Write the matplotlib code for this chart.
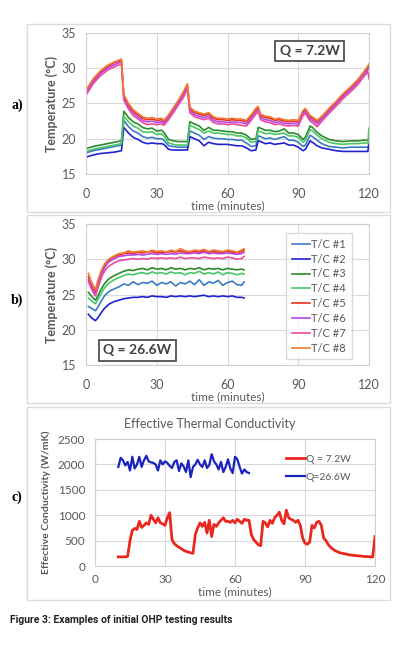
import numpy as np
import matplotlib
matplotlib.use('Agg')
import matplotlib.pyplot as plt
from matplotlib.patches import Rectangle

plt.rcParams['font.family'] = ['Lato', 'DejaVu Sans']

# ---- panel a: Q = 7.2W, temperatures (deg C) ----
ta = [0, 3, 6, 9, 12, 15, 16, 18, 20, 22, 24, 26, 28, 30, 32, 33, 35, 37, 39, 41, 43,
      44, 46, 48, 50, 52, 54, 56, 58, 60, 62, 64, 66, 68, 70, 72, 73, 74, 76, 78, 80,
      82, 84, 86, 88, 90, 92, 93, 95, 96, 98, 100, 103, 106, 109, 112, 115, 118, 119.5, 120]
a_tc1 = [18.0, 18.3, 18.5, 18.7, 18.9, 19.1,
         22.6, 21.7, 21.1, 20.8, 20.3, 20.1, 20.2, 20.0, 20.0, 19.8,
         19.0, 18.9, 18.8, 18.8, 18.8,
         21.1, 20.8, 20.5, 19.9, 20.3, 20.1, 20.0, 20.0, 19.9, 19.9, 19.8, 19.8,
         19.4, 18.9, 19.0, 20.4,
         20.3, 20.0, 20.1, 19.9, 20.1, 20.3, 19.8, 19.8, 19.5,
         18.9, 19.1, 20.5, 20.3, 19.8,
         19.3, 18.9, 18.8, 18.7, 18.8, 18.8, 18.8, 18.8, 19.3]
a_tc2 = [17.4, 17.7, 17.9, 18.0, 18.1, 18.3,
         21.6, 20.8, 20.2, 19.9, 19.5, 19.3, 19.4, 19.3, 19.3, 19.2,
         18.5, 18.4, 18.4, 18.4, 18.4,
         20.3, 20.0, 19.7, 19.0, 19.5, 19.3, 19.2, 19.2, 19.2, 19.1, 19.0, 19.0,
         18.7, 18.3, 18.4, 19.7,
         19.6, 19.3, 19.4, 19.2, 19.3, 19.4, 19.1, 19.1, 18.8,
         18.3, 18.5, 19.7, 19.5, 19.0,
         18.7, 18.5, 18.3, 18.2, 18.2, 18.2, 18.2, 18.2, 19.2]
a_tc3 = [18.6, 18.9, 19.1, 19.3, 19.5, 19.7,
         23.9, 23.0, 22.4, 22.1, 21.6, 21.4, 21.5, 21.1, 21.2, 20.9,
         19.9, 19.7, 19.6, 19.6, 19.6,
         22.4, 22.1, 21.8, 21.2, 21.6, 21.2, 21.2, 21.1, 21.0, 21.0, 20.8, 20.8,
         20.5, 19.9, 20.0, 21.6,
         21.5, 21.2, 21.2, 21.0, 21.1, 21.4, 20.8, 20.8, 20.6,
         19.9, 20.2, 21.8, 21.6, 20.9,
         20.4, 19.9, 19.7, 19.6, 19.7, 19.7, 19.8, 19.8, 19.9]
a_tc4 = [18.2, 18.5, 18.7, 18.9, 19.1, 19.3,
         23.2, 22.4, 21.8, 21.5, 21.0, 20.9, 21.0, 20.6, 20.7, 20.4,
         19.4, 19.2, 19.1, 19.1, 19.1,
         21.9, 21.6, 21.3, 20.8, 21.1, 20.8, 20.8, 20.7, 20.6, 20.6, 20.4, 20.4,
         20.1, 19.5, 19.6, 21.1,
         21.0, 20.7, 20.8, 20.6, 20.7, 20.8, 20.4, 20.4, 20.2,
         19.5, 19.8, 21.3, 21.1, 20.5,
         20.0, 19.5, 19.3, 19.2, 19.3, 19.3, 19.4, 19.4, 21.5]
a_tc5 = [26.8, 28.3, 29.4, 30.2, 30.8, 31.1,
         26.1, 24.8, 23.9, 23.4, 22.9, 22.7, 22.8, 22.6, 22.7, 22.4,
         23.2, 24.2, 25.2, 26.3, 27.6,
         24.3, 23.7, 23.5, 23.3, 23.5, 22.9, 22.7, 22.7, 22.6, 22.7, 22.6, 22.6,
         22.4, 23.2, 24.1, 24.4,
         23.3, 23.0, 22.9, 22.6, 22.7, 22.5, 22.4, 22.5, 22.4,
         23.8, 24.1, 23.1, 22.9, 22.4,
         23.0, 24.1, 25.1, 26.2, 27.1, 28.1, 29.4, 30.1, 30.4]
a_tc6 = [26.5, 28.1, 29.2, 30.0, 30.5, 30.9,
         25.8, 24.5, 23.6, 23.1, 22.6, 22.4, 22.5, 22.3, 22.4, 22.2,
         23.0, 24.0, 25.0, 26.0, 27.3,
         24.0, 23.4, 23.2, 23.0, 23.2, 22.6, 22.4, 22.4, 22.3, 22.4, 22.3, 22.3,
         22.1, 22.9, 23.8, 24.2,
         23.0, 22.7, 22.6, 22.3, 22.4, 22.2, 22.1, 22.2, 22.1,
         23.6, 23.9, 22.8, 22.6, 22.1,
         22.8, 23.9, 24.9, 26.0, 26.9, 27.9, 29.2, 29.8, 30.1]
a_tc7 = [26.2, 27.8, 28.9, 29.7, 30.2, 30.6,
         25.5, 24.2, 23.3, 22.8, 22.3, 22.0, 22.1, 22.0, 22.1, 21.9,
         22.7, 23.7, 24.7, 25.7, 27.0,
         23.7, 23.1, 22.9, 22.7, 22.9, 22.3, 22.1, 22.1, 22.0, 22.1, 22.0, 21.9,
         21.8, 22.6, 23.5, 23.9,
         22.7, 22.4, 22.3, 22.0, 22.1, 21.9, 21.8, 21.9, 21.8,
         23.3, 23.6, 22.5, 22.3, 21.7,
         22.5, 23.6, 24.6, 25.7, 26.6, 27.6, 28.9, 29.5, 28.5]
a_tc8 = [26.9, 28.5, 29.6, 30.4, 30.9, 31.3,
         26.3, 25.0, 24.1, 23.6, 23.1, 22.9, 23.0, 22.8, 22.9, 22.6,
         23.4, 24.4, 25.4, 26.5, 27.8,
         24.5, 23.9, 23.7, 23.5, 23.7, 23.1, 22.9, 22.9, 22.8, 22.9, 22.8, 22.8,
         22.6, 23.4, 24.3, 24.6,
         23.5, 23.2, 23.1, 22.8, 22.9, 22.7, 22.6, 22.7, 22.6,
         24.0, 24.3, 23.3, 23.1, 22.6,
         23.2, 24.3, 25.3, 26.4, 27.3, 28.3, 29.6, 30.3, 30.6]

# ---- panel b: Q = 26.6W ----
tb = [1, 2, 3, 4, 5, 6, 7, 8, 9, 10] + list(range(12, 67, 2)) + [67]
b_tc1 = [23.3, 23.1, 22.9, 22.7, 23.2, 23.8, 24.4, 24.9, 25.2, 25.5,
         25.8, 26.1, 26.5, 26.3, 26.8, 26.4, 26.7, 26.6, 26.9, 26.3, 26.7, 26.5, 26.8, 26.2,
         26.7, 26.5, 26.9, 26.4, 27.1, 26.3, 26.8, 26.6, 27.0, 26.3, 26.7, 26.9, 26.4, 26.3,
         26.8]
b_tc2 = [22.2, 21.8, 21.5, 21.3, 21.7, 22.2, 22.7, 23.1, 23.4, 23.7,
         24.0, 24.2, 24.4, 24.5, 24.6, 24.6, 24.7, 24.6, 24.8, 24.7, 24.7, 24.6, 24.8, 24.7,
         24.8, 24.7, 24.8, 24.7, 24.8, 24.9, 24.7, 24.8, 24.7, 24.8, 24.7, 24.8, 24.6, 24.6,
         24.5]
b_tc3 = [25.3, 24.9, 24.5, 24.2, 24.8, 25.5, 26.1, 26.6, 27.0, 27.3,
         27.7, 28.0, 28.3, 28.5, 28.4, 28.6, 28.7, 28.5, 28.8, 28.6, 28.7, 28.5, 28.8, 28.6,
         28.7, 28.5, 28.7, 28.6, 28.8, 28.5, 28.7, 28.6, 28.7, 28.5, 28.7, 28.6, 28.5, 28.6,
         28.5]
b_tc4 = [24.5, 24.2, 23.9, 23.7, 24.3, 24.9, 25.5, 26.0, 26.4, 26.7,
         27.1, 27.4, 27.7, 27.9, 27.8, 28.0, 28.1, 27.9, 28.2, 28.0, 28.1, 27.9, 28.2, 28.0,
         28.1, 27.8, 28.1, 28.0, 28.3, 27.9, 28.1, 27.9, 28.2, 27.8, 28.1, 28.0, 27.8, 28.0,
         27.9]
b_tc5 = [27.5, 26.6, 26.0, 25.4, 26.6, 27.6, 28.5, 29.1, 29.6, 29.9,
         30.4, 30.6, 30.8, 30.9, 30.8, 31.0, 30.9, 31.0, 31.1, 30.9, 31.0, 31.0, 31.1, 31.0,
         31.2, 31.0, 31.0, 31.1, 31.0, 31.2, 31.0, 31.1, 31.0, 31.0, 31.1, 31.0, 30.9, 31.1,
         31.3]
b_tc6 = [27.1, 26.3, 25.6, 25.0, 26.2, 27.3, 28.2, 28.9, 29.4, 29.7,
         30.1, 30.4, 30.5, 30.6, 30.6, 30.7, 30.6, 30.7, 30.8, 30.7, 30.8, 30.7, 30.8, 30.7,
         30.9, 30.8, 30.8, 30.9, 30.8, 31.0, 30.8, 30.9, 30.8, 30.8, 30.9, 30.8, 30.7, 30.8,
         31.0]
b_tc7 = [26.8, 26.0, 25.3, 24.8, 25.9, 26.9, 27.8, 28.4, 28.8, 29.1,
         29.5, 29.8, 29.9, 30.0, 30.1, 30.0, 30.1, 30.0, 30.2, 30.1, 30.2, 30.1, 30.2, 30.1,
         30.3, 30.1, 30.2, 30.2, 30.1, 30.3, 30.2, 30.1, 30.2, 30.1, 30.3, 30.2, 30.0, 30.1,
         30.4]
b_tc8 = [28.0, 27.0, 26.3, 25.7, 27.0, 28.0, 28.8, 29.4, 29.8, 30.1,
         30.5, 30.8, 30.9, 31.2, 31.0, 31.1, 31.2, 31.0, 31.3, 31.1, 31.2, 31.0, 31.3, 31.1,
         31.5, 31.2, 31.1, 31.3, 31.2, 31.4, 31.1, 31.3, 31.2, 31.1, 31.3, 31.2, 31.0, 31.3,
         31.5]

tc_names = ['T/C #1', 'T/C #2', 'T/C #3', 'T/C #4', 'T/C #5', 'T/C #6', 'T/C #7', 'T/C #8']
tc_colors = ['#3b7bc4', '#1f22d0', '#2b8a2b', '#48c765', '#e2321f', '#b846e6', '#ec4aa0', '#f07a30']

# ---- panel c: effective conductivity (W/mK) ----
tc_low = list(range(10, 121))
k_low = [180, 180, 180, 180, 190, 500, 700, 740, 720, 880,
         760, 800, 850, 820, 1000, 920, 850, 950, 850, 830,
         800, 950, 1050, 520, 440, 400, 370, 340, 310, 290,
         275, 260, 250, 620, 750, 850, 780, 860, 650, 900,
         580, 820, 780, 850, 900, 950, 880, 880, 860, 900,
         850, 920, 880, 840, 920, 900, 900, 620, 520, 470,
         420, 400, 880, 850, 770, 900, 840, 950, 1000, 1060,
         900, 830, 1100, 950, 920, 900, 860, 900, 800, 550,
         450, 430, 470, 800, 750, 860, 880, 800, 550, 500,
         420, 370, 330, 300, 280, 260, 250, 240, 230, 220,
         215, 210, 205, 200, 195, 190, 185, 185, 180, 180,
         580]
tc_high = list(range(10, 67))
k_high = [1950, 2130, 2080, 1980, 2050, 1880, 2150, 1920, 2000, 2150,
          1950, 2080, 2170, 2060, 2040, 2030, 2000, 1880, 2080, 2000,
          2060, 2030, 1970, 1930, 2050, 2080, 1870, 2020, 1960, 1850,
          2080, 1750, 1950, 2000, 2090, 2000, 1950, 2080, 1930, 1990,
          2200, 2060, 2000, 1900, 2050, 1850, 1950, 2100, 1920, 1830,
          2150, 2100, 1950, 1820, 1900, 1850, 1830]

grey = '#595959'

fig = plt.figure(figsize=(3.93, 6.48), dpi=100)

# light panel frames
for bot, top in [(0.673, 0.963), (0.378, 0.668), (0.074, 0.372)]:
    fig.add_artist(Rectangle((0.0687, bot), 0.9233, top - bot, transform=fig.transFigure,
                             fill=False, ec='#dcdcdc', lw=1))


def style(ax, xpad, size=9):
    ax.grid(True, color='#d9d9d9', lw=0.8)
    ax.set_axisbelow(True)
    for s in ax.spines.values():
        s.set_color('#d0d0d0')
    ax.tick_params(length=0, labelsize=size, colors=grey)
    ax.tick_params(axis='y', pad=7)
    ax.tick_params(axis='x', pad=xpad)
    ax.set_xlim(0, 120)
    ax.set_xticks([0, 30, 60, 90, 120])


# a)
ax = fig.add_axes([0.219, 0.7315, 0.720, 0.2176])
for vals, c in zip([a_tc1, a_tc2, a_tc3, a_tc4, a_tc5, a_tc6, a_tc7, a_tc8], tc_colors):
    ax.plot(ta, vals, color=c, lw=1.2)
style(ax, 10)
ax.set_ylim(15, 35)
ax.set_yticks([15, 20, 25, 30, 35])
ax.set_ylabel('Temperature (°C)', fontsize=9, fontweight='bold', color=grey, labelpad=3)
ax.set_xlabel('time (minutes)', fontsize=8.5, color=grey, labelpad=0.5)
ax.text(0.79, 0.872, 'Q = 7.2W', transform=ax.transAxes, ha='center', va='center',
        fontsize=10, fontweight='bold', color='#404040',
        bbox=dict(boxstyle='square,pad=0.3', fc='white', ec='#505050', lw=1.3))

# b)
ax = fig.add_axes([0.219, 0.4367, 0.720, 0.2176])
for vals, c, n in zip([b_tc1, b_tc2, b_tc3, b_tc4, b_tc5, b_tc6, b_tc7, b_tc8], tc_colors, tc_names):
    ax.plot(tb, vals, color=c, lw=1.2, label=n)
style(ax, 10)
ax.set_ylim(15, 35)
ax.set_yticks([15, 20, 25, 30, 35])
ax.set_ylabel('Temperature (°C)', fontsize=9, fontweight='bold', color=grey, labelpad=3)
ax.set_xlabel('time (minutes)', fontsize=8.5, color=grey, labelpad=0.5)
ax.text(0.182, 0.103, 'Q = 26.6W', transform=ax.transAxes, ha='center', va='center',
        fontsize=10, fontweight='bold', color='#404040',
        bbox=dict(boxstyle='square,pad=0.3', fc='white', ec='#505050', lw=1.3))
leg = ax.legend(loc='upper right', bbox_to_anchor=(0.958, 0.975), fontsize=8,
                handlelength=1.6, handletextpad=0.15, labelspacing=0.35,
                fancybox=False, edgecolor='#d0d0d0', borderpad=0.5)
for t in leg.get_texts():
    t.set_color(grey)

# c)
ax = fig.add_axes([0.2417, 0.1265, 0.7125, 0.196])
ax.plot(tc_low, k_low, color='#e8281e', lw=2, label='Q = 7.2W')
ax.plot(tc_high, k_high, color='#1a22c0', lw=1.6, label='Q=26.6W')
style(ax, 6, 8.5)
ax.set_ylim(0, 2500)
ax.set_yticks([0, 500, 1000, 1500, 2000, 2500])
ax.set_ylabel('Effective Conductivity (W/mK)', fontsize=7.5, fontweight='bold', color=grey, labelpad=5)
ax.set_xlabel('time (minutes)', fontsize=8.5, color=grey, labelpad=0.5)
leg = ax.legend(loc='upper right', bbox_to_anchor=(0.95, 0.95), fontsize=7.5, frameon=False,
                handlelength=1.8, handletextpad=0.1, labelspacing=0.8)
for t in leg.get_texts():
    t.set_color(grey)
fig.text(0.534, 1 - 424 / 648, 'Effective Thermal Conductivity', ha='center', va='center',
         fontsize=9, color=grey)

# panel letters and caption
for lab, y in [('a)', 105), ('b)', 300), ('c)', 497)]:
    fig.text(0.043, 1 - y / 648, lab, ha='center', va='center', fontsize=10,
             fontweight='bold', family=['Liberation Serif', 'DejaVu Serif'])
fig.text(0.025, 1 - 620 / 648, 'Figure 3: Examples of initial OHP testing results',
         ha='left', va='center', fontsize=7.5, fontweight='bold', color='#222222',
         family=['Liberation Sans Narrow', 'Roboto', 'DejaVu Sans'])

fig.savefig('out.png', dpi=100)
